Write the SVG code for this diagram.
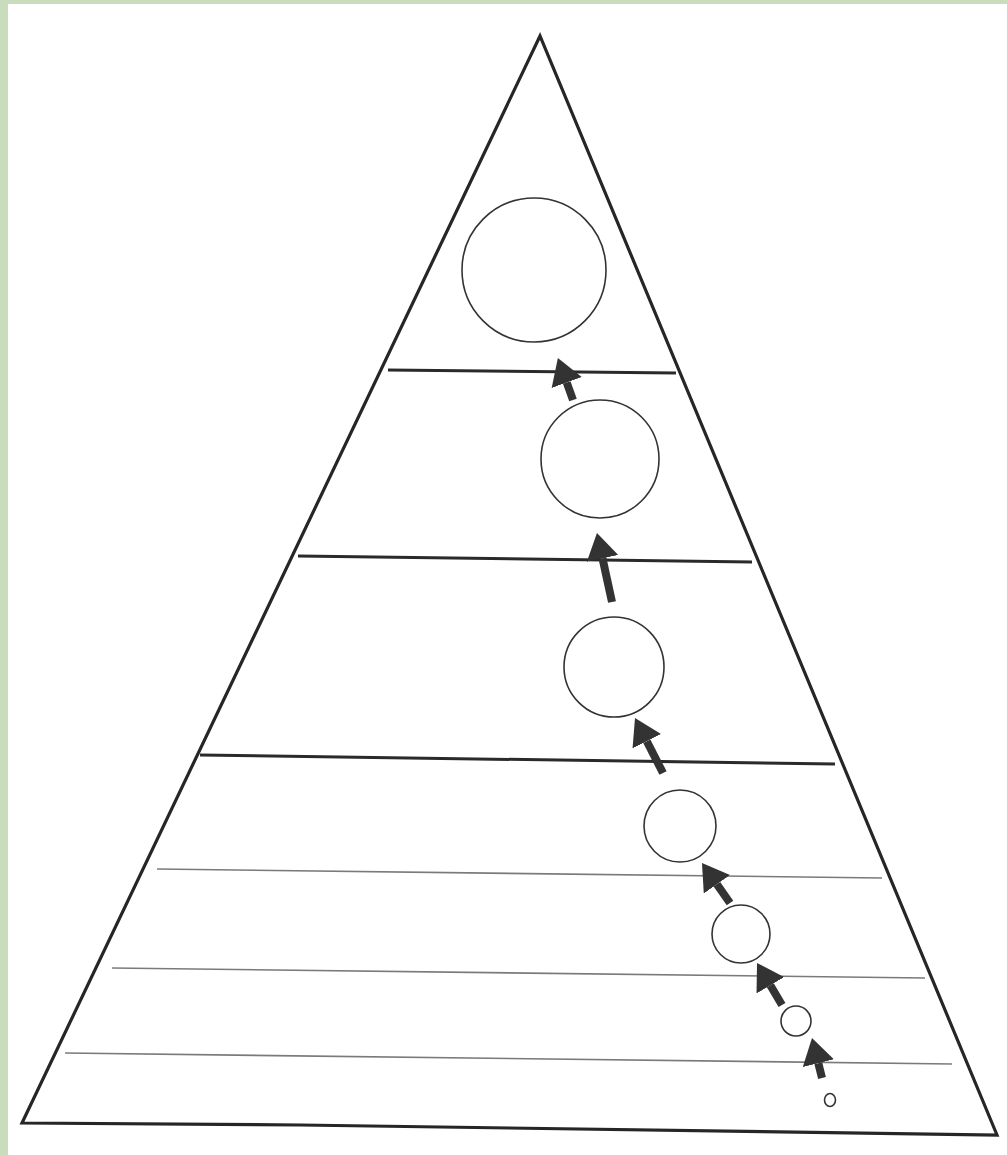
<svg xmlns="http://www.w3.org/2000/svg" width="1007" height="1155" viewBox="0 0 1007 1155">
<style>
.edge{fill:none;stroke:#262626;stroke-width:3.2;stroke-linejoin:miter}
.band{stroke:#2a2a2a;stroke-width:3}
.thin{stroke:#7a7a7a;stroke-width:1.6}
.circ{fill:none;stroke:#333;stroke-width:1.6}
.arr{stroke:#333;stroke-width:8;fill:none;marker-end:url(#head)}
</style>
<defs>
<marker id="head" viewBox="0 -16 26 32" refX="0" refY="0" markerUnits="userSpaceOnUse" markerWidth="26" markerHeight="32" orient="auto">
<path d="M0,-16 L26,0 L0,16 Z" fill="#333"/>
</marker>
</defs>
<rect x="0" y="0" width="1007" height="1155" fill="#c9dcbb"/>
<rect x="8" y="4" width="999" height="1151" fill="#ffffff"/>
<g id="pyramid">
<path class="edge" d="M22,1123 L540,36 L997,1135 L300,1125 Z"/>
</g>
<g id="levels">
<line class="band" x1="388" y1="370" x2="676" y2="373"/>
<line class="band" x1="298" y1="556" x2="752" y2="562"/>
<line class="band" x1="200" y1="755" x2="835" y2="764"/>
<line class="thin" x1="157" y1="869" x2="882" y2="878"/>
<line class="thin" x1="112" y1="968" x2="925" y2="978"/>
<line class="thin" x1="65" y1="1053" x2="952" y2="1064"/>
</g>
<g id="circle1"><circle class="circ" cx="534" cy="270" r="72"/></g>
<g id="circle2"><circle class="circ" cx="600" cy="459" r="59"/></g>
<g id="circle3"><circle class="circ" cx="614" cy="667" r="50"/></g>
<g id="circle4"><circle class="circ" cx="680" cy="826" r="36"/></g>
<g id="circle5"><circle class="circ" cx="741" cy="934" r="29"/></g>
<g id="circle6"><circle class="circ" cx="796" cy="1021" r="15"/></g>
<g id="circle7"><ellipse class="circ" cx="830" cy="1100" rx="5.5" ry="6.5"/></g>
<g id="connectors">
<line class="arr" x1="573" y1="400" x2="566.7" y2="382.5"/>
<line class="arr" x1="612" y1="602" x2="602.5" y2="558.4"/>
<line class="arr" x1="663" y1="773" x2="646.8" y2="741.2"/>
<line class="arr" x1="730" y1="903" x2="716.9" y2="884.3"/>
<line class="arr" x1="782" y1="1005" x2="770.3" y2="985.3"/>
<line class="arr" x1="822" y1="1078" x2="818.3" y2="1063.2"/>
</g>
</svg>
